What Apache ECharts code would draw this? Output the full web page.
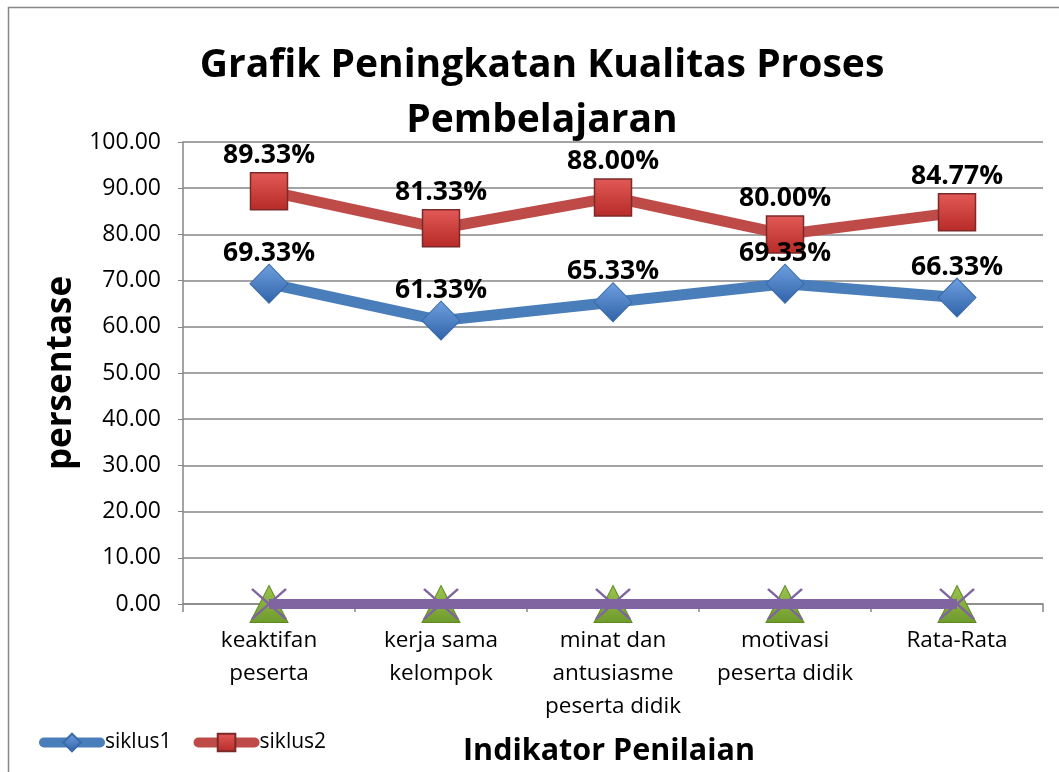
<!DOCTYPE html>
<html>
<head>
<meta charset="utf-8">
<script src="https://cdn.jsdelivr.net/npm/echarts@6/dist/echarts.min.js"></script>
<style>html,body{margin:0;padding:0;background:#fff}#c{width:1059px;height:772px}</style>
</head>
<body>
<div id="c"></div>
<script>
const categories = ["keaktifan\npeserta", "kerja sama\nkelompok", "minat dan\nantusiasme\npeserta didik", "motivasi\npeserta didik", "Rata-Rata"];
const siklus1 = [69.33, 61.33, 65.33, 69.33, 66.33];
const siklus2 = [89.33, 81.33, 88.00, 80.00, 84.77];
const series3 = [0, 0, 0, 0, 0];
const series4 = [0, 0, 0, 0, 0];
const yTicks = {min: 0, max: 100, interval: 10};

const FONT = '"Open Sans", sans-serif';
const chart = echarts.init(document.getElementById('c'));
const lbl = (dist) => ({
  show: true, position: 'top', distance: dist,
  formatter: p => p.value.toFixed(2) + '%',
  fontFamily: FONT, fontWeight: 'bold', fontSize: 26.5, color: '#000'
});
chart.setOption({
  animation: false,
  backgroundColor: '#fff',
  title: {
    text: 'Grafik Peningkatan Kualitas Proses\nPembelajaran',
    left: 537, textAlign: 'center', top: 33,
    textStyle: {fontFamily: FONT, fontWeight: 'bold', fontSize: 39, lineHeight: 55, color: '#000'}
  },
  graphic: [{
    type: 'rect', shape: {x: 8.5, y: 7.5, width: 1080, height: 800},
    style: {fill: 'none', stroke: '#868686', lineWidth: 1.5}, silent: true, z: -1
  }],
  legend: {
    data: ['siklus1', 'siklus2'],
    left: 34, top: 727,
    itemWidth: 56, itemHeight: 22, itemGap: 22,
    lineStyle: {width: 10, cap: 'round'},
    textStyle: {fontFamily: FONT, fontSize: 21, color: '#000'}
  },
  grid: {left: 183, right: 16, top: 142, bottom: 167, containLabel: false},
  xAxis: {
    type: 'category', data: categories, boundaryGap: true,
    name: 'Indikator Penilaian', nameLocation: 'middle', nameGap: 132,
    nameTextStyle: {fontFamily: FONT, fontWeight: 'bold', fontSize: 30.5, color: '#000', padding: [0, 0, 0, -8]},
    axisLine: {lineStyle: {color: '#868686', width: 1.5}},
    axisTick: {show: true, alignWithLabel: false, length: 8, lineStyle: {color: '#868686', width: 1.5}},
    axisLabel: {fontFamily: FONT, fontSize: 22.5, color: '#000', lineHeight: 33, margin: 20, interval: 0}
  },
  yAxis: {
    type: 'value', min: yTicks.min, max: yTicks.max, interval: yTicks.interval,
    name: 'persentase', nameLocation: 'middle', nameGap: 104,
    nameTextStyle: {fontFamily: FONT, fontWeight: 'bold', fontSize: 35, color: '#000'},
    axisLine: {show: true, lineStyle: {color: '#868686', width: 1.5}},
    axisTick: {show: true, length: 5, lineStyle: {color: '#868686'}},
    splitLine: {lineStyle: {color: '#868686', width: 1.5}},
    axisLabel: {fontFamily: FONT, fontSize: 23, color: '#000', margin: 22, formatter: v => v.toFixed(2)}
  },
  series: [
    {
      name: 'siklus1', type: 'line', data: siklus1, z: 3,
      lineStyle: {color: '#4a7ebb', width: 11},
      symbol: 'diamond', symbolSize: [38, 39],
      itemStyle: {color: {type: 'linear', x: 0, y: 0, x2: 0, y2: 1, colorStops: [{offset: 0, color: '#6fa0e0'}, {offset: 1, color: '#2f62a8'}]}, borderColor: '#3a6aa8', borderWidth: 1},
      label: lbl(-3)
    },
    {
      name: 'siklus2', type: 'line', data: siklus2, z: 3,
      lineStyle: {color: '#be4b48', width: 11},
      symbol: 'rect', symbolSize: [37, 37],
      itemStyle: {color: {type: 'linear', x: 0, y: 0, x2: 0, y2: 1, colorStops: [{offset: 0, color: '#e25a57'}, {offset: 1, color: '#b62a27'}]}, borderColor: '#7a2a28', borderWidth: 1.5},
      label: lbl(3)
    },
    {
      name: 'siklus3', type: 'line', data: series3, z: 2,
      lineStyle: {color: '#9bbb59', width: 10},
      symbol: 'triangle', symbolSize: [38, 37],
      itemStyle: {color: {type: 'linear', x: 0, y: 0, x2: 0, y2: 1, colorStops: [{offset: 0, color: '#9cc450'}, {offset: 1, color: '#6e9a2c'}]}, borderColor: '#5f8a22', borderWidth: 1}
    },
    {
      name: 'siklus4', type: 'line', data: series4, z: 4,
      lineStyle: {color: '#8064a2', width: 10},
      symbol: 'path://M0,0L10,10M10,0L0,10', symbolSize: [34, 30],
      itemStyle: {color: 'rgba(0,0,0,0)', borderColor: '#8064a2', borderWidth: 2.5}
    }
  ]
});
</script>
</body>
</html>
